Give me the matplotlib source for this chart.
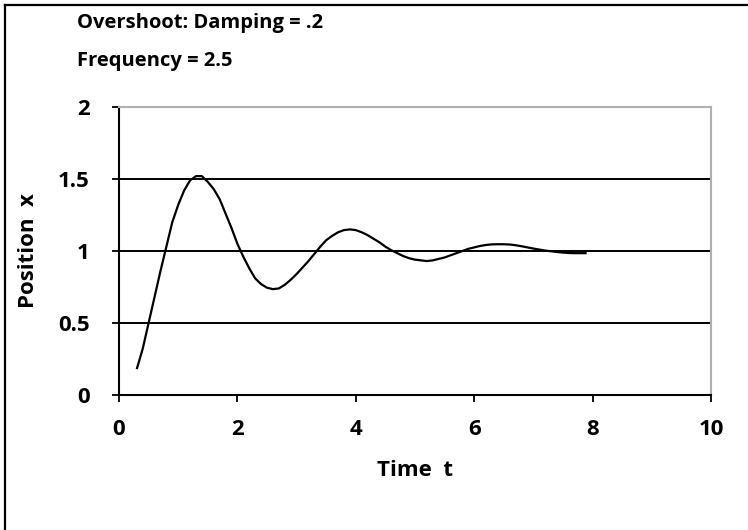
import matplotlib
matplotlib.use("Agg")
import matplotlib.pyplot as plt
from matplotlib.lines import Line2D


# (time, position), 0.1 s apart
time_t = [0.3, 0.4, 0.5, 0.6, 0.7, 0.8, 0.9, 1.0, 1.1, 1.2,
          1.3, 1.4, 1.5, 1.6, 1.7, 1.8, 1.9, 2.0, 2.1, 2.2,
          2.3, 2.4, 2.5, 2.6, 2.7, 2.8, 2.9, 3.0, 3.1, 3.2,
          3.3, 3.4, 3.5, 3.6, 3.7, 3.8, 3.9, 4.0, 4.1, 4.2,
          4.3, 4.4, 4.5, 4.6, 4.7, 4.8, 4.9, 5.0, 5.1, 5.2,
          5.3, 5.4, 5.5, 5.6, 5.7, 5.8, 5.9, 6.0, 6.1, 6.2,
          6.3, 6.4, 6.5, 6.6, 6.7, 6.8, 6.9, 7.0, 7.1, 7.2,
          7.3, 7.4, 7.5, 7.6, 7.7, 7.8, 7.9]
position_x = [0.18, 0.32, 0.50, 0.68, 0.86, 1.03, 1.20, 1.32, 1.42, 1.49,
              1.52, 1.52, 1.48, 1.43, 1.36, 1.26, 1.16, 1.05, 0.96, 0.88,
              0.81, 0.77, 0.745, 0.735, 0.74, 0.765, 0.80, 0.84, 0.885, 0.93,
              0.98, 1.03, 1.075, 1.105, 1.13, 1.145, 1.15, 1.145, 1.13, 1.11,
              1.085, 1.06, 1.03, 1.005, 0.985, 0.965, 0.95, 0.94, 0.935, 0.93,
              0.935, 0.945, 0.955, 0.97, 0.985, 1.0, 1.015, 1.025, 1.035, 1.042,
              1.046, 1.047, 1.047, 1.045, 1.04, 1.033, 1.025, 1.017, 1.01, 1.003,
              0.998, 0.993, 0.989, 0.986, 0.985, 0.985, 0.985]

x_ticks = [0, 2, 4, 6, 8, 10]
y_ticks = [0, 0.5, 1, 1.5, 2]
y_tick_labels = ["0", "0.5", "1", "1.5", "2"]

TITLE_LINES = ["Overshoot: Damping = .2", "Frequency = 2.5"]

plt.rcParams["font.family"] = ["Open Sans", "DejaVu Sans"]
plt.rcParams["font.weight"] = "bold"

W, H = 748, 530
fig = plt.figure(figsize=(W / 100, H / 100), dpi=100)
ax = fig.add_axes([119 / W, 1 - 395 / H, (711 - 119) / W, (395 - 107) / H])

ax.plot(time_t, position_x, color="black", linewidth=1.6,
        solid_joinstyle="round", solid_capstyle="butt")

ax.set_xlim(0, 10)
ax.set_ylim(0, 2)
ax.set_xticks(x_ticks)
ax.set_xticklabels([str(v) for v in x_ticks])
ax.set_yticks(y_ticks)
ax.set_yticklabels(y_tick_labels)
ax.tick_params(direction="out", length=5, width=1.3, colors="black",
               labelsize=16)
ax.tick_params(axis="x", pad=12)
ax.tick_params(axis="y", pad=16)

for v in y_ticks[1:-1]:
    ax.axhline(v, color="black", linewidth=1.4, zorder=1)

ax.spines["left"].set_linewidth(1.5)
ax.spines["bottom"].set_linewidth(1.5)
for side in ("top", "right"):
    ax.spines[side].set_color("#b0b0b0")
    ax.spines[side].set_linewidth(1.5)

ax.set_xlabel("Time  t", fontsize=16, fontweight="bold", va="center")
ax.xaxis.set_label_coords(0.5, (395 - 470) / 288)
ax.set_ylabel("Position  x", fontsize=16, fontweight="bold", va="center")
ax.yaxis.set_label_coords((29 - 119) / 592, 0.5)

fig.text(77 / W, 1 - 23 / H, TITLE_LINES[0], fontsize=14.5, fontweight="bold",
         ha="left", va="center")
fig.text(77 / W, 1 - 61 / H, TITLE_LINES[1], fontsize=14.5, fontweight="bold",
         ha="left", va="center")

# chart-area frame, only top and left edges show in the crop
fig.add_artist(Line2D([5 / W, 5 / W], [0, 1 - 5 / H], transform=fig.transFigure,
                      color="black", linewidth=1.6))
fig.add_artist(Line2D([5 / W, 1], [1 - 5 / H, 1 - 5 / H], transform=fig.transFigure,
                      color="black", linewidth=1.6))

fig.savefig("out.png", dpi=100)
